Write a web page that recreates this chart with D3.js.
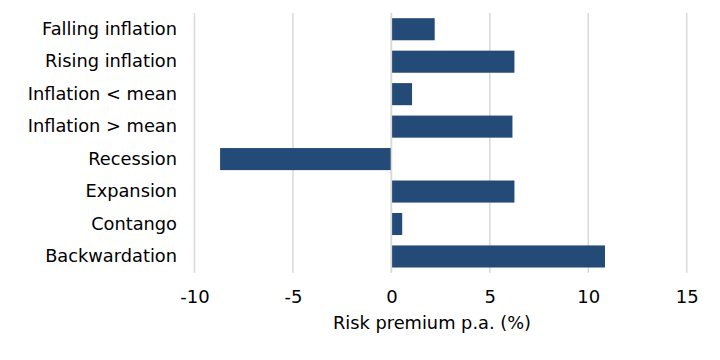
<!DOCTYPE html>
<html><head><meta charset="utf-8">
<script src="https://cdn.jsdelivr.net/npm/d3@7"></script>
<style>html,body{margin:0;padding:0;background:#fff;}</style>
</head><body>
<svg id="chart" width="720" height="360"></svg>
<script>
const categories = ["Falling inflation","Rising inflation","Inflation < mean","Inflation > mean","Recession","Expansion","Contango","Backwardation"];
const values = [2.2, 6.25, 1.05, 6.15, -8.7, 6.25, 0.55, 10.85];
const xTicks = [-10, -5, 0, 5, 10, 15];
const xTitle = "Risk premium p.a. (%)";

const svg = d3.select("#chart");
const font = "'DejaVu Sans', Verdana, sans-serif";
const x = d3.scaleLinear().domain([-10, 15]).range([194.5, 686.7]);
const y = d3.scaleBand().domain(categories).range([13, 272.7]).paddingInner(0.32).paddingOuter(0.16);

// gridlines
svg.append("g").selectAll("line").data(xTicks).join("line")
  .attr("x1", d => x(d)).attr("x2", d => x(d))
  .attr("y1", 13).attr("y2", 272.7)
  .attr("stroke", "#d9d9d9").attr("stroke-width", 1.5);

// bars
svg.append("g").selectAll("rect").data(categories).join("rect")
  .attr("x", (c, i) => Math.min(x(0), x(values[i])))
  .attr("width", (c, i) => Math.abs(x(values[i]) - x(0)))
  .attr("y", c => y(c))
  .attr("height", y.bandwidth())
  .attr("fill", "#244a77");

// zero line on top
svg.append("line").attr("x1", x(0)).attr("x2", x(0)).attr("y1", 13).attr("y2", 272.7)
  .attr("stroke", "#d9d9d9").attr("stroke-width", 1.5);

// x axis
const xAxis = svg.append("g").attr("transform", "translate(0,303)")
  .call(d3.axisBottom(x).tickValues(xTicks).tickSize(0).tickPadding(0).tickFormat(d => String(d)));
xAxis.select(".domain").remove();
xAxis.selectAll("text").attr("font-family", font).attr("font-size", 18).attr("fill", "#000")
  .attr("dy", "0").attr("y", 0);

// y axis labels
const yAxis = svg.append("g").attr("transform", "translate(177,0)")
  .call(d3.axisLeft(y).tickSize(0).tickPadding(0));
yAxis.select(".domain").remove();
yAxis.selectAll("text").attr("font-family", font).attr("font-size", 17.8).attr("fill", "#000");

svg.append("text").attr("x", 432).attr("y", 329).attr("text-anchor", "middle")
  .attr("font-family", font).attr("font-size", 17.8).attr("fill", "#000").text(xTitle);
</script>
</body></html>
